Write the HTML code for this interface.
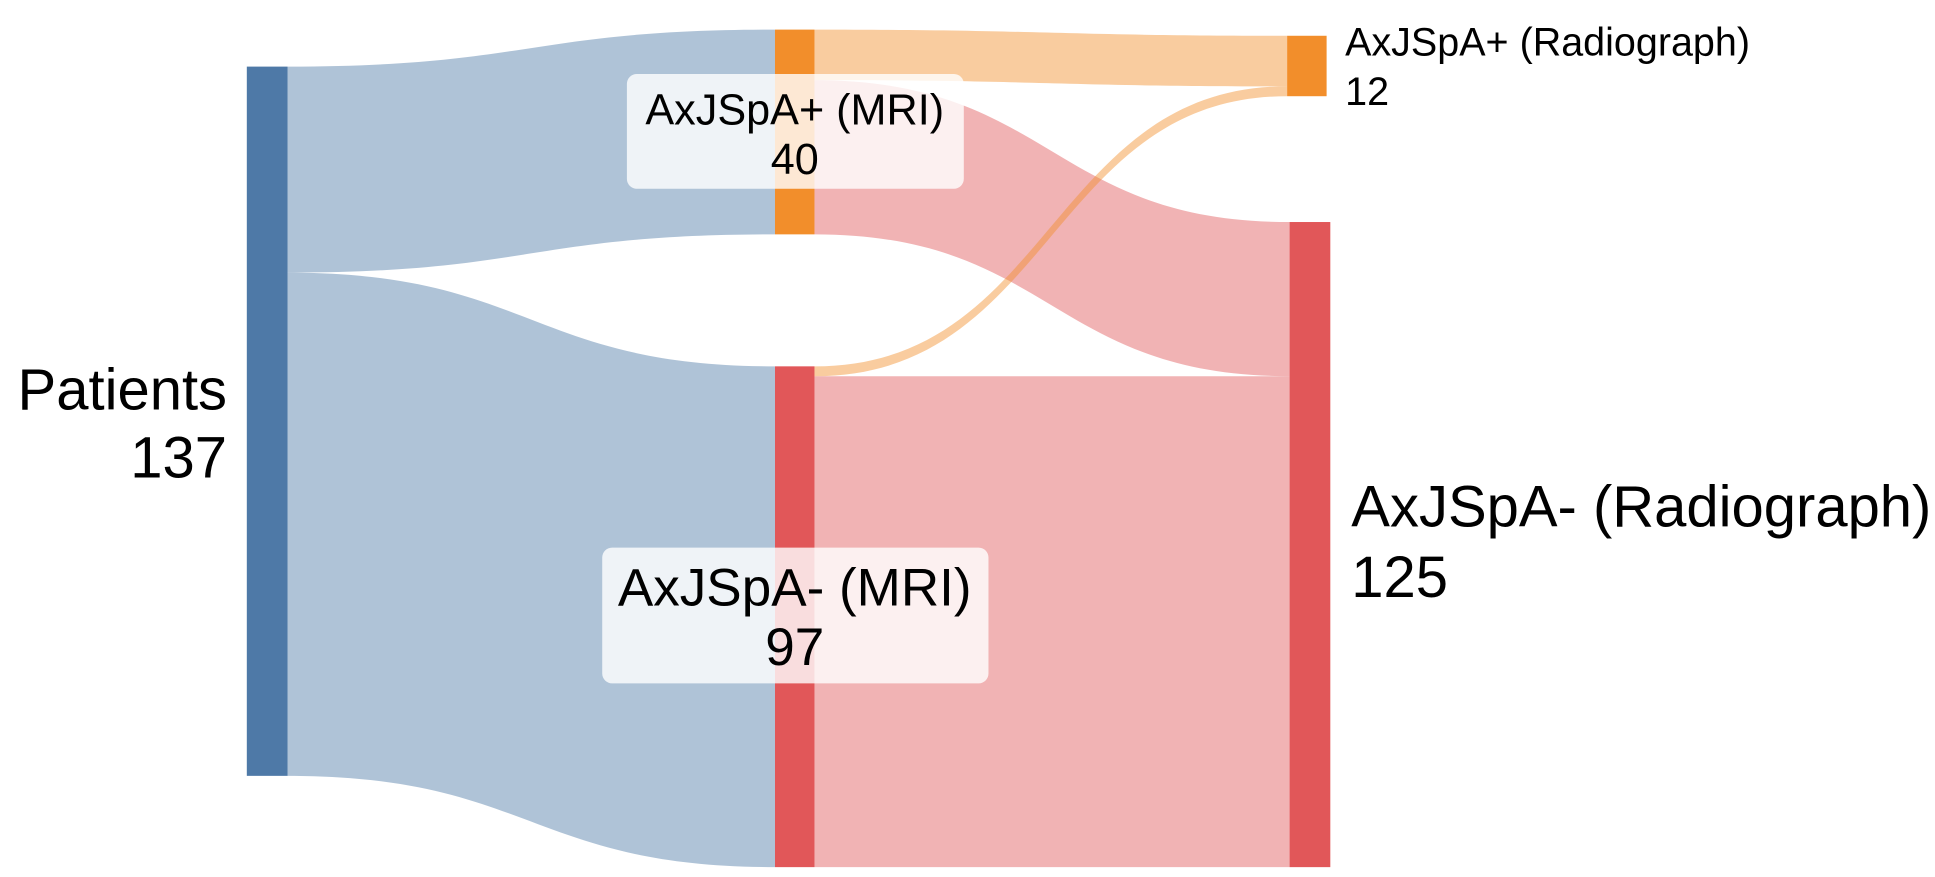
<!DOCTYPE html>
<html><head><meta charset="utf-8"><style>
html,body{margin:0;padding:0;background:#fff;}
svg{display:block;font-family:"Liberation Sans",Arial,sans-serif;}
</style></head><body>
<svg width="1935" height="877" viewBox="0 0 1568 711" preserveAspectRatio="none">
<g>
<path d="M233,54 C430,54 430,24 628,24 L628,190 C430,190 430,221 233,221 Z" fill="#4e79a7" fill-opacity="0.45"/>
<path d="M233,221 C430,221 430,297 628,297 L628,703 C430,703 430,629 233,629 Z" fill="#4e79a7" fill-opacity="0.45"/>
<path d="M660,65 C852,65 852,180 1045,180 L1045,305 C852,305 852,190 660,190 Z" fill="#e15759" fill-opacity="0.45"/>
<path d="M660,305 C852,305 852,305 1045,305 L1045,703 C852,703 852,703 660,703 Z" fill="#e15759" fill-opacity="0.45"/>
<path d="M660,24 C852,24 852,29 1043,29 L1043,70 C852,70 852,65 660,65 Z" fill="#f28e2b" fill-opacity="0.45"/>
<path d="M660,297 C852,297 852,70 1043,70 L1043,78 C852,78 852,305 660,305 Z" fill="#f28e2b" fill-opacity="0.45"/>
</g>
<rect x="200" y="54" width="33" height="575" fill="#4e79a7"/>
<rect x="628" y="24" width="32" height="166" fill="#f28e2b"/>
<rect x="628" y="297" width="32" height="406" fill="#e15759"/>
<rect x="1043" y="29" width="32" height="49" fill="#f28e2b"/>
<rect x="1045" y="180" width="33" height="523" fill="#e15759"/>
<rect x="508" y="60" width="273" height="93" rx="8" fill="#fff" fill-opacity="0.8"/>
<rect x="488" y="444" width="313" height="110" rx="8" fill="#fff" fill-opacity="0.8"/>
<g fill="#000">
<text x="184" y="332" font-size="47" text-anchor="end">Patients</text>
<text x="184" y="387" font-size="47" text-anchor="end">137</text>
<text x="644" y="101" font-size="35" text-anchor="middle">AxJSpA+ (MRI)</text>
<text x="644" y="141" font-size="35" text-anchor="middle">40</text>
<text x="644" y="491" font-size="43" text-anchor="middle">AxJSpA- (MRI)</text>
<text x="644" y="539" font-size="43" text-anchor="middle">97</text>
<text x="1090" y="45" font-size="32">AxJSpA+ (Radiograph)</text>
<text x="1090" y="85" font-size="32">12</text>
<text x="1095" y="427" font-size="47">AxJSpA- (Radiograph)</text>
<text x="1095" y="484" font-size="47">125</text>
</g>
</svg>
</body></html>
